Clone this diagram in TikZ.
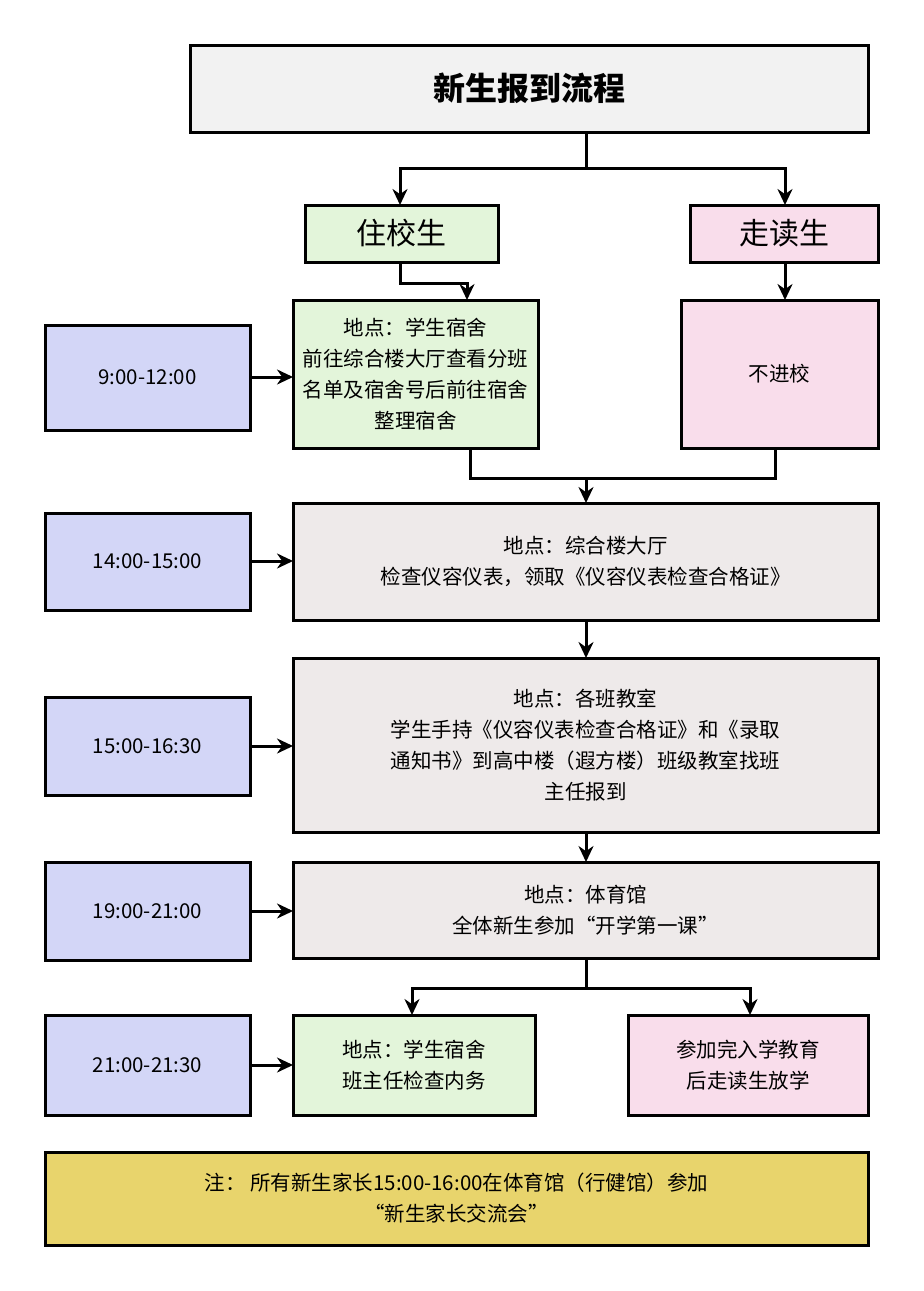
\documentclass[tikz,border=0pt]{standalone}
\usepackage{fontspec}
\setmainfont{Noto Sans CJK SC}
\usetikzlibrary{arrows.meta}
\definecolor{titlegray}{HTML}{F2F2F2}
\definecolor{boardgreen}{HTML}{E3F5DA}
\definecolor{daypink}{HTML}{F9DDEB}
\definecolor{timeblue}{HTML}{D3D6F7}
\definecolor{stepgray}{HTML}{EEEAEA}
\definecolor{noteyellow}{HTML}{E8D46C}
\tikzset{
 box/.style={draw=black,line width=3pt},
 label/.style={align=center,font=\fontsize{20.5}{31}\selectfont},
 link/.style={line width=3pt,-{Stealth[length=16pt,width=15pt]}},
 plain/.style={line width=3pt}
}
\begin{document}
\begin{tikzpicture}[x=1pt,y=-1pt]
\useasboundingbox (0,0) rectangle (924,1291);

% boxes
\draw[box,fill=titlegray] (190,45) rectangle (868,132) node[midway,label,font=\fontsize{32}{36}\bfseries\selectfont] (head) {新生报到流程};
\draw[box,fill=boardgreen] (305,205) rectangle (498,262) node[midway,label,font=\fontsize{30}{34}\selectfont] (board) {住校生};
\draw[box,fill=daypink] (690,205) rectangle (878,262) node[midway,label,font=\fontsize{30}{34}\selectfont] (day) {走读生};

\draw[box,fill=timeblue] (45,325) rectangle (250,430) node[midway,label] (t1) {9:00-12:00};
\draw[box,fill=boardgreen] (293,300) rectangle (538,448) node[midway,label] (dorm) {地点：学生宿舍\\前往综合楼大厅查看分班\\名单及宿舍号后前往宿舍\\整理宿舍};
\draw[box,fill=daypink] (681,300) rectangle (878,448) node[midway,label] (out) {不进校};

\draw[box,fill=timeblue] (45,513) rectangle (250,610) node[midway,label] (t2) {14:00-15:00};
\draw[box,fill=stepgray] (293,503) rectangle (878,620) node[midway,label] (hall) {地点：综合楼大厅\\检查仪容仪表，领取《仪容仪表检查合格证》};

\draw[box,fill=timeblue] (45,697) rectangle (250,795) node[midway,label] (t3) {15:00-16:30};
\draw[box,fill=stepgray] (293,658) rectangle (878,832) node[midway,label] (room) {地点：各班教室\\学生手持《仪容仪表检查合格证》和《录取\\通知书》到高中楼（遐方楼）班级教室找班\\主任报到};

\draw[box,fill=timeblue] (45,862) rectangle (250,960) node[midway,label] (t4) {19:00-21:00};
\draw[box,fill=stepgray] (293,862) rectangle (878,958) node[midway,label] (gym) {地点：体育馆\\全体新生参加“开学第一课”};

\draw[box,fill=timeblue] (45,1015) rectangle (250,1115) node[midway,label] (t5) {21:00-21:30};
\draw[box,fill=boardgreen] (293,1015) rectangle (535,1115) node[midway,label] (check) {地点：学生宿舍\\班主任检查内务};
\draw[box,fill=daypink] (628,1015) rectangle (868,1115) node[midway,label] (leave) {参加完入学教育\\后走读生放学};

\draw[box,fill=noteyellow] (45,1152) rectangle (868,1245) node[midway,label] (note) {注：\ 所有新生家长15:00-16:00在体育馆（行健馆）参加\\“新生家长交流会”};

% connectors
\draw[plain] (586,132) -- (586,168) coordinate (split1);
\draw[link] (split1) -| (400,205);
\draw[link] (split1) -| (785,205);
\draw[link] (400,262) |- (467,283) -- (467,300);
\draw[link] (785,262) -- (785,300);
\draw[plain] (470,448) |- (775,478) -- (775,448);
\draw[link] (586,478) -- (586,503);
\draw[link] (586,620) -- (586,658);
\draw[link] (586,832) -- (586,862);
\draw[plain] (586,958) -- (586,988) coordinate (split2);
\draw[link] (split2) -| (412,1015);
\draw[link] (split2) -| (750,1015);
\foreach \y in {377,561,746,911,1065}
 \draw[link] (250,\y) -- (293,\y);
\end{tikzpicture}
\end{document}
